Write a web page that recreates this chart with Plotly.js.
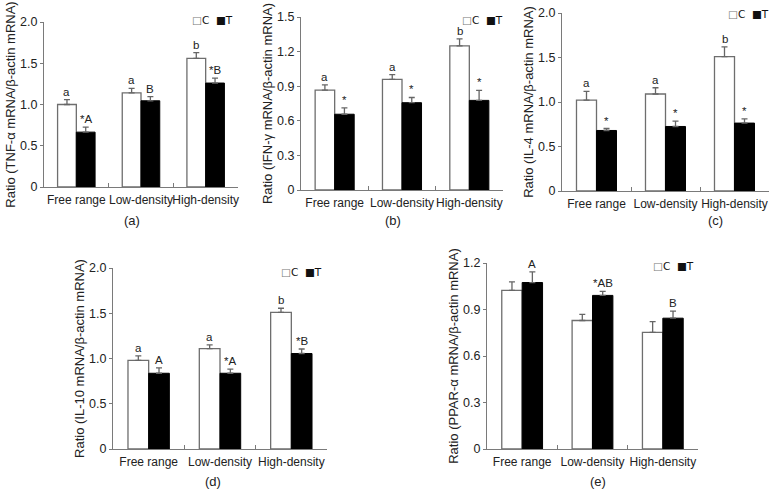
<!DOCTYPE html>
<html>
<head>
<meta charset="utf-8">
<script src="https://cdn.plot.ly/plotly-3.0.1.min.js"></script>
<style>html,body{margin:0;padding:0;background:#fff;}#chart{width:780px;height:502px;}</style>
</head>
<body>
<div id="chart"></div>
<script>
// ---------- data ----------
const categories = ["Free range", "Low-density", "High-density"];

const tnfC = [1.00, 1.14, 1.56];
const tnfCse = [0.06, 0.055, 0.07];
const tnfT = [0.665, 1.045, 1.26];
const tnfTse = [0.06, 0.05, 0.06];
const tnfClab = ["a", "a", "b"];
const tnfTlab = ["*A", "B", "*B"];

const ifnC = [0.866, 0.96, 1.25];
const ifnCse = [0.045, 0.04, 0.06];
const ifnT = [0.657, 0.757, 0.777];
const ifnTse = [0.055, 0.045, 0.086];
const ifnClab = ["a", "a", "b"];
const ifnTlab = ["*", "*", "*"];

const il4C = [1.02, 1.09, 1.51];
const il4Cse = [0.10, 0.07, 0.11];
const il4T = [0.68, 0.725, 0.763];
const il4Tse = [0.022, 0.06, 0.047];
const il4Clab = ["a", "a", "b"];
const il4Tlab = ["*", "*", "*"];

const il10C = [0.98, 1.11, 1.51];
const il10Cse = [0.05, 0.04, 0.045];
const il10T = [0.837, 0.837, 1.055];
const il10Tse = [0.06, 0.045, 0.05];
const il10Clab = ["a", "a", "b"];
const il10Tlab = ["A", "*A", "*B"];

const pparC = [1.024, 0.829, 0.753];
const pparCse = [0.054, 0.039, 0.069];
const pparT = [1.074, 0.991, 0.844];
const pparTse = [0.069, 0.026, 0.046];
const pparClab = ["", "", ""];
const pparTlab = ["A", "*AB", "B"];

const tickVals2 = [0, 0.5, 1.0, 1.5, 2.0];
const tickText2 = ["0", "0.5", "1.0", "1.5", "2.0"];
const tickVals15 = [0, 0.3, 0.6, 0.9, 1.2, 1.5];
const tickText15 = ["0", "0.3", "0.6", "0.9", "1.2", "1.5"];
const tickVals12 = [0, 0.3, 0.6, 0.9, 1.2];
const tickText12 = ["0", "0.3", "0.6", "0.9", "1.2"];

const yTitles = [
  "Ratio (TNF-α mRNA/β-actin mRNA)",
  "Ratio (IFN-γ mRNA/β-actin mRNA)",
  "Ratio (IL-4 mRNA/β-actin mRNA)",
  "Ratio (IL-10 mRNA/β-actin mRNA)",
  "Ratio (PPAR-α mRNA/β-actin mRNA)"
];
const panelLabels = ["(a)", "(b)", "(c)", "(d)", "(e)"];

// ---------- layout helpers ----------
const W = 780, H = 502;
const fx = p => p / W;
const fy = p => (H - p) / H;
const FONT = "Liberation Sans, Arial, sans-serif";

const panels = [
  {C: tnfC, Cse: tnfCse, T: tnfT, Tse: tnfTse, Cl: tnfClab, Tl: tnfTlab, tv: tickVals2, tt: tickText2, ymax: 2.0,
   x0: 44, x1: 238, yb: 187, yt: 22, lab: [132, 220], leg: [190, 20]},
  {C: ifnC, Cse: ifnCse, T: ifnT, Tse: ifnTse, Cl: ifnClab, Tl: ifnTlab, tv: tickVals15, tt: tickText15, ymax: 1.5,
   x0: 301, x1: 503, yb: 190, yt: 17, lab: [393, 220], leg: [460, 20]},
  {C: il4C, Cse: il4Cse, T: il4T, Tse: il4Tse, Cl: il4Clab, Tl: il4Tlab, tv: tickVals2, tt: tickText2, ymax: 2.0,
   x0: 562, x1: 769, yb: 191, yt: 13, lab: [715, 220], leg: [726, 14]},
  {C: il10C, Cse: il10Cse, T: il10T, Tse: il10Tse, Cl: il10Clab, Tl: il10Tlab, tv: tickVals2, tt: tickText2, ymax: 2.0,
   x0: 113, x1: 327, yb: 449, yt: 268, lab: [213, 481], leg: [279, 272]},
  {C: pparC, Cse: pparCse, T: pparT, Tse: pparTse, Cl: pparClab, Tl: pparTlab, tv: tickVals12, tt: tickText12, ymax: 1.2,
   x0: 487, x1: 698, yb: 449, yt: 263, lab: [598, 481], leg: [651, 266]}
];

const traces = [];
const layout = {
  width: W, height: H,
  margin: {l: 0, r: 0, t: 0, b: 0},
  paper_bgcolor: "#ffffff",
  plot_bgcolor: "rgba(0,0,0,0)",
  showlegend: false,
  barmode: "group",
  bargap: 0.42,
  bargroupgap: 0,
  font: {family: FONT, size: 12, color: "#222"},
  annotations: []
};

const off = 0.145;
panels.forEach((p, k) => {
  const n = k + 1;
  const xa = "x" + (n === 1 ? "" : n);
  const ya = "y" + (n === 1 ? "" : n);
  const xk = "xaxis" + (n === 1 ? "" : n);
  const yk = "yaxis" + (n === 1 ? "" : n);
  const zeros = p.C.map(() => 0);
  traces.push({
    type: "bar", name: "C", x: categories, y: p.C, xaxis: xa, yaxis: ya,
    marker: {color: "#ffffff", line: {color: "#6e6e6e", width: 1.3}},
    error_y: {type: "data", symmetric: false, array: p.Cse, arrayminus: zeros, color: "#666", thickness: 1.3, width: 3}
  });
  traces.push({
    type: "bar", name: "T", x: categories, y: p.T, xaxis: xa, yaxis: ya,
    marker: {color: "#000000", line: {color: "#000000", width: 1}},
    error_y: {type: "data", symmetric: false, array: p.Tse, arrayminus: zeros, color: "#666", thickness: 1.3, width: 3}
  });
  layout[xk] = {
    domain: [fx(p.x0), fx(p.x1)], anchor: ya,
    type: "category", range: [-0.5, 2.5],
    showline: true, linecolor: "#7a7a7a", linewidth: 1,
    ticks: "inside", tickson: "boundaries", ticklen: 4, tickcolor: "#7a7a7a",
    showgrid: false, zeroline: false, fixedrange: true,
    tickangle: 0, ticklabelstandoff: 2,
    tickfont: {family: FONT, size: 12, color: "#222"}
  };
  layout[yk] = {
    domain: [fy(p.yb), fy(p.yt)], anchor: xa,
    range: [0, p.ymax],
    tickvals: p.tv, ticktext: p.tt,
    showline: true, linecolor: "#7a7a7a", linewidth: 1,
    ticks: "outside", ticklen: 3, tickcolor: "#7a7a7a",
    showgrid: false, zeroline: false, fixedrange: true,
    tickfont: {family: FONT, size: 12.5, color: "#222"},
    title: {text: yTitles[k], font: {family: FONT, size: 13, color: "#222"}, standoff: 1}
  };
  // significance letters
  for (let i = 0; i < categories.length; i++) {
    if (p.Cl[i]) layout.annotations.push({
      xref: xa, yref: ya, x: i - off, y: p.C[i] + p.Cse[i], text: p.Cl[i],
      showarrow: false, yanchor: "bottom", yshift: 0, font: {family: FONT, size: 11.5, color: "#222"}
    });
    if (p.Tl[i]) layout.annotations.push({
      xref: xa, yref: ya, x: i + off, y: p.T[i] + p.Tse[i], text: p.Tl[i],
      showarrow: false, yanchor: "bottom", yshift: 0, font: {family: FONT, size: 11.5, color: "#222"}
    });
  }
  // panel label
  layout.annotations.push({
    xref: "paper", yref: "paper", x: fx(p.lab[0]), y: fy(p.lab[1]), text: panelLabels[k],
    showarrow: false, xanchor: "center", yanchor: "middle", font: {family: FONT, size: 13, color: "#222"}
  });
  // legend key
  layout.annotations.push({
    xref: "paper", yref: "paper", x: fx(p.leg[0]), y: fy(p.leg[1]),
    text: "<span style='color:#777'>□</span>C  ■T",
    showarrow: false, xanchor: "left", yanchor: "middle", font: {family: "DejaVu Sans, sans-serif", size: 10.5, color: "#111"}
  });
});

Plotly.newPlot("chart", traces, layout, {displayModeBar: false, staticPlot: true});
</script>
</body>
</html>
